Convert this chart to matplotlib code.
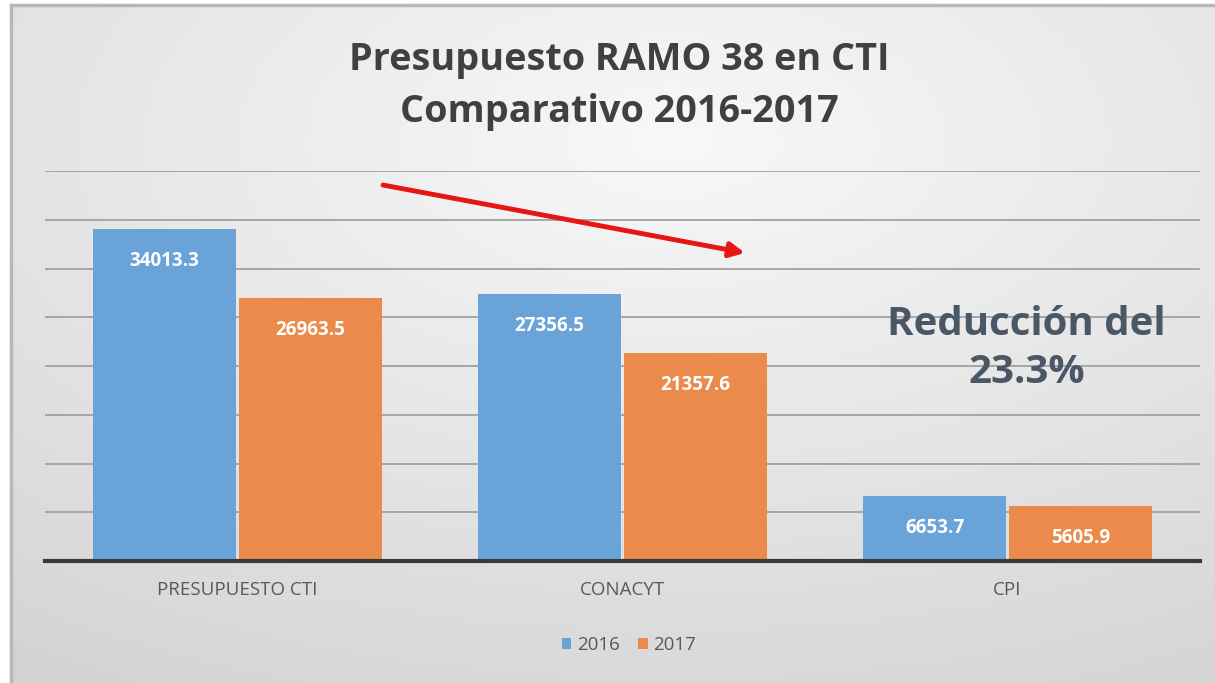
#!/usr/bin/env python3
"""Presupuesto RAMO 38 en CTI - comparativo 2016-2017 (grouped bars)."""
import matplotlib
matplotlib.use("Agg")
import matplotlib.pyplot as plt
import numpy as np

# ── Data ────────────────────────────────────────────────────────────────
categories = ["PRESUPUESTO CTI", "CONACYT", "CPI"]
values_2016 = [34013.3, 27356.5, 6653.7]
values_2017 = [26963.5, 21357.6, 5605.9]
series_labels = ["2016", "2017"]
y_ticks = [0, 5000, 10000, 15000, 20000, 25000, 30000, 35000, 40000]

BLUE = "#6aa3d8"
ORANGE = "#ea8a4b"
TEXT = "#404040"

plt.rcParams["font.family"] = ["Liberation Sans Narrow", "Open Sans", "DejaVu Sans"]

W, H = 1215, 683
fig = plt.figure(figsize=(W / 100, H / 100), dpi=100)
fig.patch.set_facecolor("white")

# ── Background panel with soft gradient ─────────────────────────────────
bg = fig.add_axes([11 / W, 0, 1 - 11 / W, 1 - 5 / H])
yy, xx = np.mgrid[0:1:200j, 0:1:300j]
dist = np.sqrt(((xx - 0.55) / 0.9) ** 2 + ((yy - 0.2) / 0.85) ** 2)
grad = np.clip(0.97 - 0.13 * dist, 0.80, 0.975)
bg.imshow(grad, cmap="gray", vmin=0, vmax=1, aspect="auto",
          extent=[0, 1, 0, 1], origin="upper")
bg.set_xlim(0, 1)
bg.set_ylim(0, 1)
bg.axis("off")
bg.plot([0, 0], [0, 1], color="#b8b8b8", lw=2.5, transform=bg.transAxes, clip_on=False)
bg.plot([0, 1], [1, 1], color="#b8b8b8", lw=2.5, transform=bg.transAxes, clip_on=False)

# ── Main axes ───────────────────────────────────────────────────────────
ax = fig.add_axes([45 / W, 1 - 561 / H, (1200 - 45) / W, (561 - 171) / H])
ax.patch.set_alpha(0)

x = np.arange(len(categories))
bw = 0.372
gap = 0.003
b1 = ax.bar(x - bw / 2 - gap, values_2016, bw, color=BLUE, label=series_labels[0], zorder=3)
b2 = ax.bar(x + bw / 2 + gap, values_2017, bw, color=ORANGE, label=series_labels[1], zorder=3)

for bars in (b1, b2):
    for rect in bars:
        h = rect.get_height()
        ax.annotate(f"{h:.1f}", xy=(rect.get_x() + rect.get_width() / 2, h),
                    xytext=(0, -23), textcoords="offset points",
                    ha="center", va="center", color="white",
                    fontsize=13.5, fontweight="bold", zorder=4)

ax.set_xlim(-0.5, 2.5)
ax.set_ylim(0, 40000)
ax.set_yticks(y_ticks)
ax.yaxis.grid(True, color="#a6a6a6", lw=1.4, zorder=0)
ax.tick_params(axis="y", left=False, labelleft=False)
ax.tick_params(axis="x", bottom=False, labelsize=13.5, labelcolor="#595959", pad=11)
ax.set_xticks(x)
ax.set_xticklabels(categories)
for sp in ("top", "right", "left"):
    ax.spines[sp].set_visible(False)
ax.spines["bottom"].set_color("#3a3a3a")
ax.spines["bottom"].set_linewidth(3)
ax.spines["bottom"].set_zorder(5)

# ── Red trend arrow ─────────────────────────────────────────────────────
ax.annotate("", xy=(1.318, 31600), xytext=(0.378, 38560),
            arrowprops=dict(arrowstyle="-|>", color="#e81515", lw=3.5,
                            mutation_scale=22, shrinkA=0, shrinkB=0),
            zorder=6)

# ── Reduction note ──────────────────────────────────────────────────────
ax.text(2.05, 21800, "Reducción del\n23.3%", ha="center", va="center",
        fontsize=29, fontweight="bold", color="#4a5866",
        family=["Open Sans", "DejaVu Sans"], linespacing=1.32, zorder=6)

# ── Title ───────────────────────────────────────────────────────────────
fig.text(0.51, 1 - 86 / H, "Presupuesto RAMO 38 en CTI\nComparativo 2016-2017",
         ha="center", va="center", fontsize=27.2, fontweight="bold",
         color=TEXT, family=["Open Sans", "DejaVu Sans"], linespacing=1.5)

# ── Legend ──────────────────────────────────────────────────────────────
leg = fig.legend(handles=[b1, b2], labels=series_labels, loc="center",
                 bbox_to_anchor=(629 / W, 1 - 645 / H), ncol=2, frameon=False,
                 handlelength=0.5, handleheight=0.5, handletextpad=0.3,
                 columnspacing=1.0, fontsize=13.5)
for t in leg.get_texts():
    t.set_color("#595959")

fig.savefig("out.png", dpi=100)
